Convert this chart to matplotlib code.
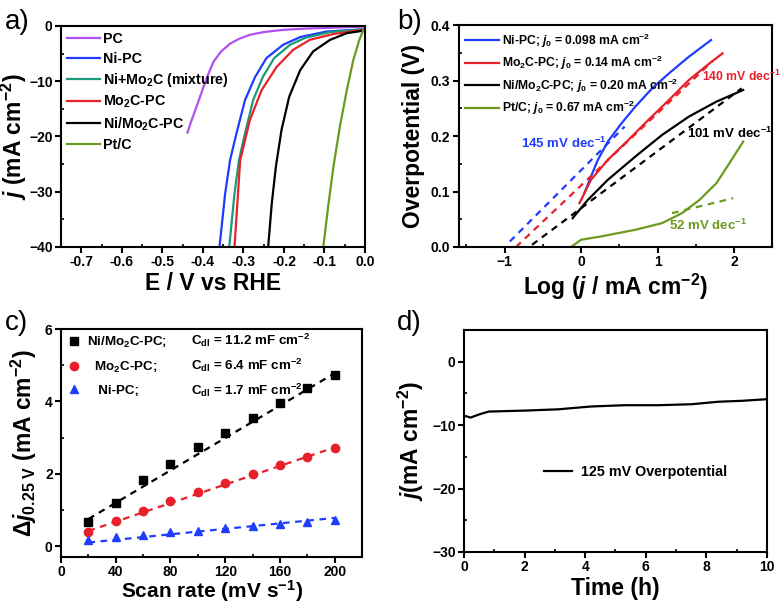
import matplotlib
matplotlib.use('Agg')
import matplotlib.pyplot as plt
from matplotlib.ticker import MultipleLocator

plt.rcParams['font.family'] = 'Liberation Sans'
plt.rcParams['font.weight'] = 'bold'
plt.rcParams['axes.labelweight'] = 'bold'
plt.rcParams['mathtext.fontset'] = 'custom'
plt.rcParams['mathtext.rm'] = 'Liberation Sans:bold'
plt.rcParams['mathtext.bf'] = 'Liberation Sans:bold'
plt.rcParams['mathtext.it'] = 'Liberation Sans:italic:bold'
plt.rcParams['mathtext.default'] = 'rm'

# ---- a) polarization curves
E_pc = [-0.438, -0.43, -0.42, -0.407, -0.39, -0.374, -0.355, -0.333, -0.31, -0.284, -0.25, -0.202, -0.14, -0.078, 0.0]
j_pc = [-19.3, -17.5, -15.5, -12.8, -9.3, -6.5, -4.6, -3.2, -2.3, -1.6, -1.1, -0.7, -0.45, -0.3, -0.1]
E_ni = [-0.359, -0.345, -0.333, -0.317, -0.296, -0.271, -0.243, -0.202, -0.160, -0.095, -0.004]
j_ni = [-40, -30.3, -24.3, -19.4, -13.4, -9.2, -5.8, -3.4, -2.0, -1.0, -0.6]
E_mix = [-0.335, -0.322, -0.311, -0.296, -0.276, -0.252, -0.224, -0.185, -0.146, -0.086, -0.004]
j_mix = [-40, -30.3, -24.3, -19.4, -13.4, -9.2, -5.8, -3.4, -2.1, -1.1, -0.6]
E_mo = [-0.322, -0.308, -0.284, -0.255, -0.218, -0.177, -0.136, -0.078, -0.004]
j_mo = [-40, -24.3, -17.0, -11.6, -7.4, -4.3, -2.5, -1.45, -0.7]
E_nimo = [-0.239, -0.230, -0.220, -0.206, -0.187, -0.160, -0.128, -0.086, -0.045, -0.004]
j_nimo = [-40, -32.1, -25.5, -18.8, -12.8, -8.0, -4.6, -2.5, -1.3, -0.85]
E_pt = [-0.103, -0.091, -0.078, -0.062, -0.045, -0.029, -0.014, -0.004]
j_pt = [-40, -32.7, -25.5, -18.2, -11.6, -6.2, -2.5, -0.7]

# ---- b) Tafel plots
lg_ni = [0.044, 0.13, 0.22, 0.35, 0.53, 0.71, 0.93, 1.15, 1.41, 1.70]
eta_ni = [0.097, 0.127, 0.157, 0.19, 0.223, 0.253, 0.286, 0.313, 0.343, 0.373]
fit_ni_x = [-0.93, 0.57]
fit_ni_y = [0.01, 0.217]
lg_mo = [-0.02, 0.13, 0.35, 0.62, 0.88, 1.15, 1.41, 1.68, 1.85]
eta_mo = [0.079, 0.121, 0.157, 0.193, 0.229, 0.265, 0.301, 0.331, 0.349]
fit_mo_x = [-0.85, 1.72]
fit_mo_y = [0.0, 0.335]
lg_nimo = [-0.11, 0.09, 0.35, 0.71, 1.06, 1.41, 1.77, 2.12]
eta_nimo = [0.052, 0.085, 0.121, 0.163, 0.202, 0.235, 0.262, 0.283]
fit_nimo_x = [-0.64, 2.10]
fit_nimo_y = [0.004, 0.286]
lg_pt = [-0.13, 0.0, 0.26, 0.71, 1.06, 1.32, 1.55, 1.77, 1.94, 2.12]
eta_pt = [0.0, 0.013, 0.019, 0.031, 0.043, 0.061, 0.085, 0.115, 0.151, 0.19]
fit_pt_x = [1.19, 1.99]
fit_pt_y = [0.061, 0.088]

# ---- c) double-layer capacitance
scan = [20, 40, 60, 80, 100, 120, 140, 160, 180, 200]
dj_nimo = [0.665, 1.2, 1.82, 2.27, 2.74, 3.13, 3.55, 3.95, 4.36, 4.73]
dj_mo = [0.39, 0.69, 0.96, 1.24, 1.5, 1.75, 2.0, 2.24, 2.47, 2.72]
dj_ni = [0.16, 0.25, 0.32, 0.39, 0.43, 0.5, 0.55, 0.62, 0.67, 0.71]
fit_c_x = [20, 200]
fit_nimo_c = [0.75, 4.78]
fit_mo_c = [0.42, 2.73]
fit_ni_c = [0.1, 0.78]
names_c = ['Ni/Mo$_2$C-PC;', '  Mo$_2$C-PC;', '   Ni-PC;']
cdl_c = ['C$_{\\mathbf{dl}}$ = 11.2 mF cm$^{-2}$', 'C$_{\\mathbf{dl}}$ = 6.4 mF cm$^{-2}$',
         'C$_{\\mathbf{dl}}$ = 1.7 mF cm$^{-2}$']

# ---- d) stability
t_h = [0, 0.22, 0.5, 0.82, 2, 3.1, 4.2, 5.3, 6.4, 7.5, 8.4, 9.2, 10]
j_t = [-8.5, -8.8, -8.3, -7.85, -7.7, -7.5, -7.05, -6.85, -6.85, -6.7, -6.3, -6.15, -5.9]

purple = '#b050f0'
blue = '#1f3cff'
teal = '#1a9a78'
red = '#e8202a'
olive = '#6b9a1e'

fig = plt.figure(figsize=(7.84, 6.03), dpi=100)
axa = fig.add_axes([0.0778, 0.5904, 0.3878, 0.3665])
axb = fig.add_axes([0.585, 0.5904, 0.400, 0.368])
axc = fig.add_axes([0.0778, 0.0763, 0.384, 0.378])
axd = fig.add_axes([0.5918, 0.0846, 0.3865, 0.368])


def style(ax):
    for s in ax.spines.values():
        s.set_linewidth(1.5)
    ax.tick_params(which='major', direction='out', length=4, width=1.5, labelsize=10, pad=2)
    ax.tick_params(which='minor', direction='in', length=2.5, width=1.2)
    ax.tick_params(top=False, right=False, which='both')
    for lab in ax.get_xticklabels() + ax.get_yticklabels():
        lab.set_fontweight('bold')


lw = 1.6
dash = (0, (3, 2.5))
axa.plot(E_pc, j_pc, color=purple, lw=lw, label='PC')
axa.plot(E_ni, j_ni, color=blue, lw=lw, label='Ni-PC')
axa.plot(E_mix, j_mix, color=teal, lw=lw, label='Ni+Mo$_2$C (mixture)')
axa.plot(E_mo, j_mo, color=red, lw=lw, label='Mo$_2$C-PC')
axa.plot(E_nimo, j_nimo, color='black', lw=lw, label='Ni/Mo$_2$C-PC')
axa.plot(E_pt, j_pt, color=olive, lw=lw, label='Pt/C')
axa.set_xlim(-0.75, 0.0)
axa.set_ylim(-40, 0)
axa.xaxis.set_major_locator(MultipleLocator(0.1))
axa.xaxis.set_minor_locator(MultipleLocator(0.05))
axa.yaxis.set_major_locator(MultipleLocator(10))
axa.yaxis.set_minor_locator(MultipleLocator(5))
axa.xaxis.set_major_formatter(plt.FuncFormatter(lambda v, p: '%.1f' % v))
axa.set_xlabel('E / V vs RHE', fontsize=16.5, labelpad=2)
axa.set_ylabel('$\\mathit{j}$ (mA cm$^{-2}$)', fontsize=16.5, labelpad=0)
axa.legend(loc='upper left', frameon=False, handlelength=2.3,
           handletextpad=0.2, labelspacing=0.36, borderaxespad=0.05,
           prop={'weight': 'bold', 'size': 10.3})
style(axa)

axb.plot(lg_ni, eta_ni, color=blue, lw=lw, label='Ni-PC; $\\mathit{j}_0$ = 0.098 mA cm$^{-2}$')
axb.plot(fit_ni_x, fit_ni_y, color=blue, lw=lw, ls=dash)
axb.plot(lg_mo, eta_mo, color=red, lw=lw, label='Mo$_2$C-PC; $\\mathit{j}_0$ = 0.14 mA cm$^{-2}$')
axb.plot(fit_mo_x, fit_mo_y, color=red, lw=lw, ls=dash)
axb.plot(lg_nimo, eta_nimo, color='black', lw=lw, label='Ni/Mo$_2$C-PC; $\\mathit{j}_0$ = 0.20 mA cm$^{-2}$')
axb.plot(fit_nimo_x, fit_nimo_y, color='black', lw=lw, ls=dash)
axb.plot(lg_pt, eta_pt, color=olive, lw=lw, label='Pt/C; $\\mathit{j}_0$ = 0.67 mA cm$^{-2}$')
axb.plot(fit_pt_x, fit_pt_y, color=olive, lw=lw, ls=dash)
axb.set_xlim(-1.6, 2.5)
axb.set_ylim(0, 0.4)
axb.xaxis.set_major_locator(MultipleLocator(1))
axb.xaxis.set_minor_locator(MultipleLocator(0.5))
axb.yaxis.set_major_locator(MultipleLocator(0.1))
axb.yaxis.set_minor_locator(MultipleLocator(0.05))
axb.yaxis.set_major_formatter(plt.FuncFormatter(lambda v, p: '%.1f' % v))
axb.set_xlabel('Log ($\\mathit{j}$ / mA cm$^{-2}$)', fontsize=16.5, labelpad=2)
axb.set_ylabel('Overpotential (V)', fontsize=16.5, labelpad=4)
axb.legend(loc='upper left', frameon=False, handlelength=2.8, handletextpad=0.3,
           labelspacing=0.36, borderaxespad=0.12, prop={'weight': 'bold', 'size': 8.7})
axb.text(-0.79, 0.178, '145 mV dec$^{-1}$', color=blue, fontsize=9.5)
axb.text(1.58, 0.30, '140 mV dec$^{-1}$', color=red, fontsize=8.8, clip_on=False)
axb.text(1.39, 0.196, '101 mV dec$^{-1}$', color='black', fontsize=9.5)
axb.text(1.15, 0.031, '52 mV dec$^{-1}$', color=olive, fontsize=9.5)
style(axb)

axc.plot(scan, dj_nimo, 's', color='black', ms=5.5, label=names_c[0])
axc.plot(fit_c_x, fit_nimo_c, color='black', lw=lw, ls=dash)
axc.plot(scan, dj_mo, 'o', color=red, ms=6, label=names_c[1])
axc.plot(fit_c_x, fit_mo_c, color=red, lw=lw, ls=dash)
axc.plot(scan, dj_ni, '^', color=blue, ms=6, label=names_c[2])
axc.plot(fit_c_x, fit_ni_c, color=blue, lw=lw, ls=dash)
axc.set_xlim(0, 220)
axc.set_ylim(-0.3, 6)
axc.xaxis.set_major_locator(MultipleLocator(40))
axc.xaxis.set_minor_locator(MultipleLocator(20))
axc.yaxis.set_major_locator(MultipleLocator(2))
axc.yaxis.set_minor_locator(MultipleLocator(1))
axc.set_xlabel('Scan rate (mV s$^{-1}$)', fontsize=15, labelpad=-1)
axc.set_ylabel('$\\mathit{\\Delta j}_{0.25\\ \\mathrm{V}}$ (mA cm$^{-2}$)', fontsize=16.5, labelpad=4)
axc.legend(loc='upper left', frameon=False, handlelength=1.0, handletextpad=0.5,
           labelspacing=0.72, borderaxespad=0.05, prop={'weight': 'bold', 'size': 9.6})
for txt, yy in zip(cdl_c, [0.952, 0.842, 0.732]):
    axc.text(0.432, yy, txt, transform=axc.transAxes, fontsize=9.6, va='center')
style(axc)

axd.plot(t_h, j_t, color='black', lw=lw, label='125 mV Overpotential')
axd.set_xlim(0, 10)
axd.set_ylim(-30, 5)
axd.xaxis.set_major_locator(MultipleLocator(2))
axd.xaxis.set_minor_locator(MultipleLocator(1))
axd.yaxis.set_major_locator(MultipleLocator(10))
axd.yaxis.set_minor_locator(MultipleLocator(5))
axd.set_xlabel('Time (h)', fontsize=16.5, labelpad=2)
axd.set_ylabel('$\\mathit{j}$(mA cm$^{-2}$)', fontsize=16.5, labelpad=4)
axd.legend(loc='center left', bbox_to_anchor=(0.22, 0.36), frameon=False,
           handlelength=2.0, handletextpad=0.6, prop={'weight': 'bold', 'size': 10.3})
style(axd)

panel_labels = ['a)', 'b)', 'c)', 'd)']
panel_pos = [(0.006, 0.952), (0.506, 0.952), (0.006, 0.452), (0.506, 0.452)]
for lab, (x, y) in zip(panel_labels, panel_pos):
    fig.text(x, y, lab, fontsize=20, fontweight='normal')

fig.savefig('out.png', dpi=100)
